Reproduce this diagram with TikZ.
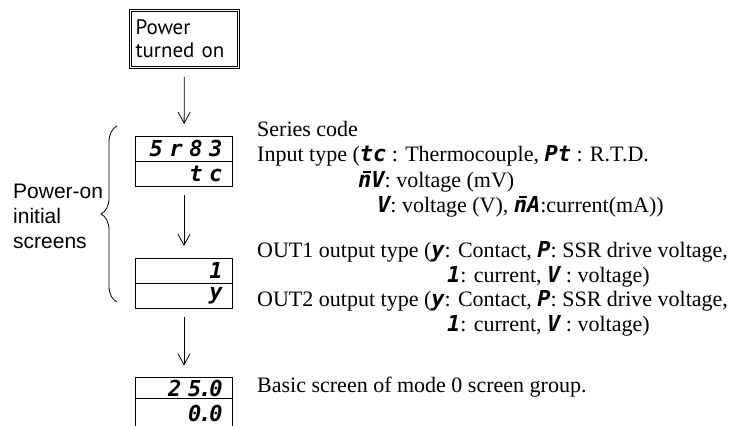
\documentclass[tikz,border=0pt]{standalone}
\usepackage{fontspec}
\setmainfont{Liberation Serif}
\newfontfamily\boxfont{PT Sans}
\newfontfamily\labelfont{Liberation Sans}
\newfontfamily\segfont{DejaVu Sans Mono}
\newfontfamily\lcdfont[LetterSpace=30]{DejaVu Sans Mono}
\usetikzlibrary{arrows.meta,positioning,decorations.pathreplacing}

\newcommand{\sg}[1]{{\segfont\bfseries\itshape #1}}
% seven-segment m: an n with a bar over it
\newcommand{\segm}{\vbox{\offinterlineskip
    \hbox to 0.6em{\hss\rule{0.34em}{0.11em}\kern0.02em}\kern0.08em\hbox{n}}}

\begin{document}
\begin{tikzpicture}[
    x=1pt, y=-1pt,
    node distance=0pt,
    startbox/.style={draw=black, double, double distance=1.4pt, line width=0.8pt,
      minimum width=108pt, minimum height=57pt, text width=98pt, inner xsep=5pt,
      align=left, font=\fontsize{21}{23}\selectfont\boxfont},
    lcd/.style={draw=black, line width=0.8pt, outer sep=0pt,
      minimum width=97pt, minimum height=25pt, inner xsep=10pt, inner ysep=0pt,
      text width=77pt, align=right,
      font=\fontsize{22}{22}\selectfont\lcdfont\bfseries\itshape},
    flow/.style={-{Straight Barb[length=11pt,width=12pt]}, line width=0.8pt,
      shorten <=9pt, shorten >=12pt},
    note/.style={anchor=base west, inner sep=0pt, font=\fontsize{22}{25}\selectfont}
  ]
  \path[use as bounding box] (0,0) rectangle (735,425);
  \clip (0,0) rectangle (735,425);

  % flow of screens
  \node[startbox] (power) at (184.5,39) {Power\\turned on};
  \node[lcd] (seriesdsp) at (184,148.5) {5r83};
  \node[lcd, below=of seriesdsp] (inputdsp) {tc};
  \node[lcd] (out1dsp) at (184,270.5) {1};
  \node[lcd, below=of out1dsp] (out2dsp) {y};
  \node[lcd, minimum height=21pt] (pvdsp) at (184,388) {25\kern-0.12em.\kern-0.12em0};
  \node[lcd, below=of pvdsp, minimum height=30pt] (svdsp) {0\kern-0.12em.\kern-0.12em0};

  \draw[flow] (power) -- (seriesdsp);
  \draw[flow] (inputdsp) -- (out1dsp);
  \draw[flow] (out2dsp) -- (pvdsp);

  % brace and its label
  \coordinate (bracbot) at (117,302);
  \coordinate (bractop) at (117,126);
  \draw[line width=0.8pt, decorate, decoration={brace, amplitude=16pt}] (bracbot) -- (bractop);
  \node[anchor=west, inner sep=0pt, align=left,
    font=\fontsize{21}{25}\selectfont\labelfont] (initlabel) at (13,216)
    {Power-on\\initial\\screens};

  % notes on the right
  \node[note] (sercode) at (257,136) {Series code};
  \node[note] (intype) at (257,161) {Input type (\sg{tc} : Thermocouple, \sg{Pt} : R.T.D.};
  \node[note] (inmv) at (358,187) {\sg{\segm V}: voltage (mV)};
  \node[note] (inv) at (377,212) {\sg{V}: voltage (V), \sg{\segm A}:current(mA))};
  \node[note] (out1type) at (257,257) {OUT1 output type (\sg{y}: Contact, \sg{P}: SSR drive voltage,};
  \node[note] (out1more) at (447,282) {\sg{1}: current, \sg{V} : voltage)};
  \node[note] (out2type) at (257,306) {OUT2 output type (\sg{y}: Contact, \sg{P}: SSR drive voltage,};
  \node[note] (out2more) at (447,331) {\sg{1}: current, \sg{V} : voltage)};
  \node[note] (basic) at (257,392) {Basic screen of mode 0 screen group.};
\end{tikzpicture}
\end{document}
